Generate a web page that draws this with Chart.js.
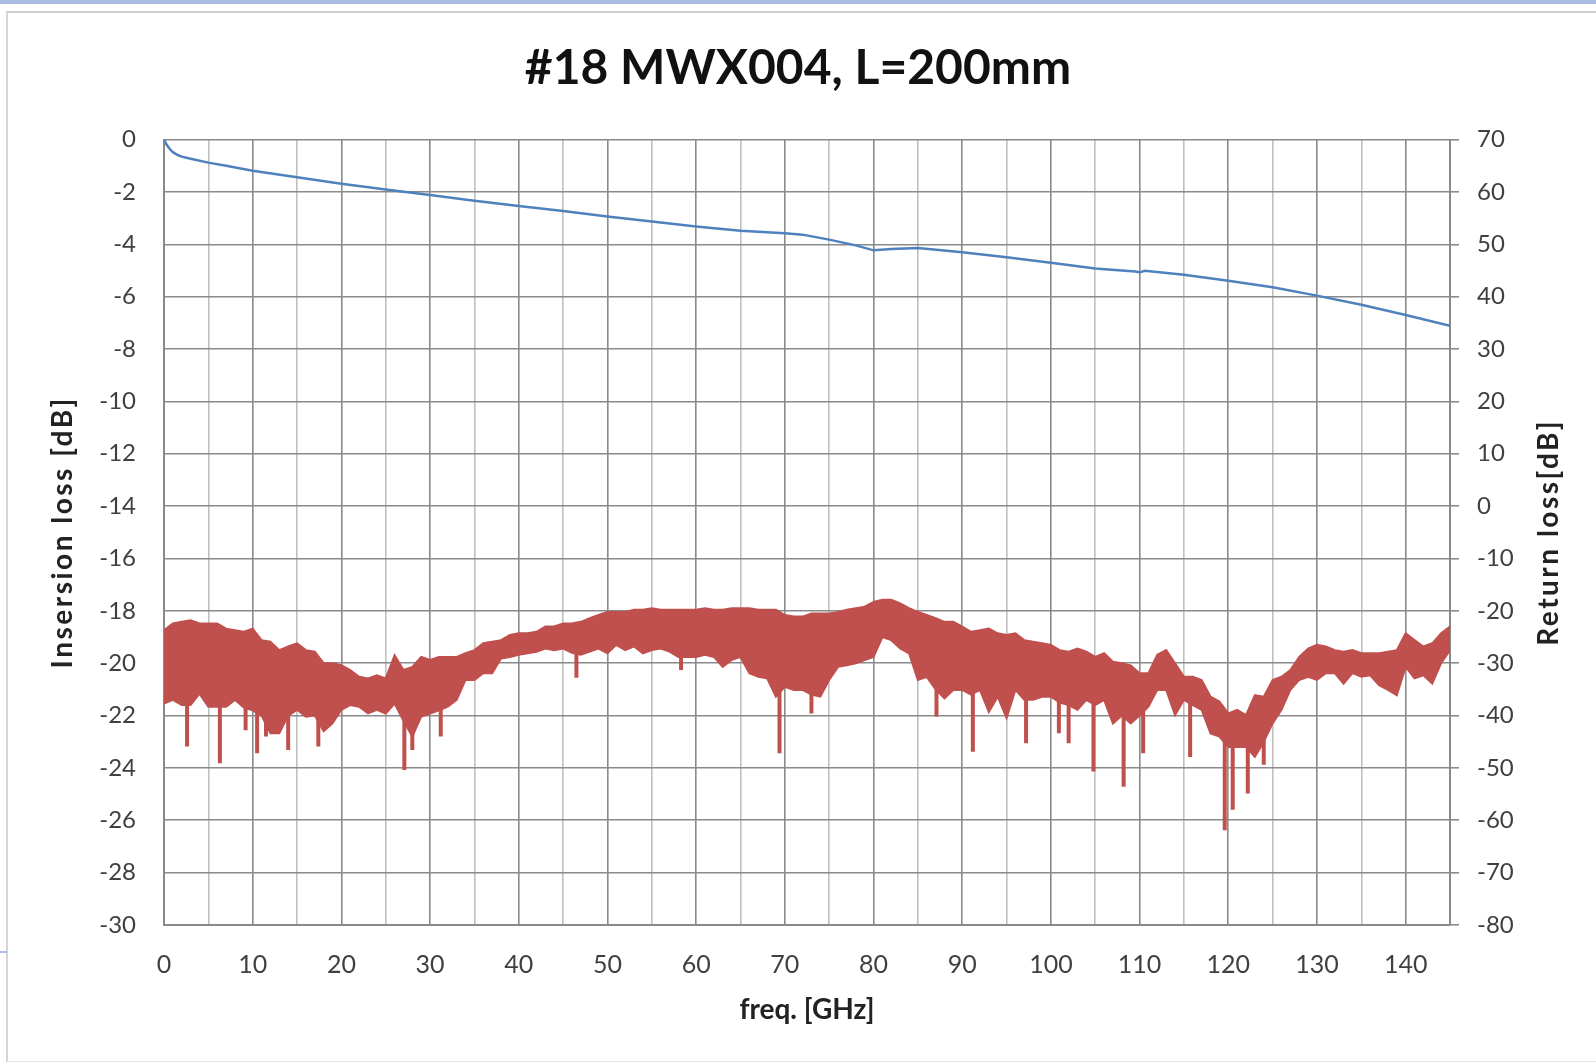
<!DOCTYPE html>
<html>
<head>
<meta charset="utf-8">
<title>#18 MWX004, L=200mm</title>
<script src="https://cdn.jsdelivr.net/npm/chart.js@4.4.1/dist/chart.umd.min.js"></script>
<style>
  html, body { margin: 0; padding: 0; background: #fff; }
  #wrap { position: relative; width: 1596px; height: 1063px; overflow: hidden; }
  .topbar { position: absolute; left: 0; top: 0; width: 1596px; height: 4px; background: #a8bde0; }
  .frame { position: absolute; left: 6px; top: 11px; right: 0; bottom: 1px;
           border-left: 2px solid #d6d6d6; border-top: 2px solid #cfcfcf; border-bottom: 1px solid #e6e6e6; }
  .mark { position: absolute; left: 0; top: 951px; width: 7px; height: 2px; background: #a8bde0; }
  canvas { position: absolute; left: 0; top: 0; }
</style>
</head>
<body>
<div id="wrap">
  <div class="topbar"></div>
  <div class="frame"></div>
  <div class="mark"></div>
  <canvas id="chart" width="1596" height="1063"></canvas>
</div>
<script>
// texts
const chartTitle = '#18 MWX004, L=200mm';
const xTitle = 'freq. [GHz]';
const yLeftTitle = 'Insersion loss [dB]';
const yRightTitle = 'Return loss[dB]';

// insertion loss (left axis)
const ilFreq = [0, 0.3, 0.7, 1, 1.5, 2, 3, 5, 7, 10, 15, 20, 25, 30, 35, 40, 45, 50, 55, 60, 65, 70, 72, 75, 78, 80, 82, 85,
  90, 95, 100, 105, 109.5, 110, 110.6, 115, 120, 125, 130, 135, 140, 145];
const ilLoss = [0, -0.2, -0.38, -0.48, -0.58, -0.65, -0.73, -0.88, -1.0, -1.19, -1.44, -1.69, -1.91, -2.12, -2.34, -2.54,
  -2.73, -2.94, -3.13, -3.32, -3.48, -3.58, -3.63, -3.82, -4.04, -4.23, -4.18, -4.14, -4.30, -4.49, -4.70, -4.92, -5.04,
  -5.07, -5.01, -5.16, -5.39, -5.64, -5.96, -6.31, -6.70, -7.11];

// return loss (right axis): upper and lower edge of the noisy band, one value per GHz from 0 to 145
const rlTop = [
  -23.7, -22.4, -22.1, -21.8, -22.4, -22.4, -22.4, -23.4, -23.7, -24.0,
  -23.4, -25.6, -25.9, -27.5, -26.8, -26.2, -27.5, -27.8, -30.0, -30.0,
  -30.4, -31.3, -32.6, -32.9, -32.3, -32.9, -28.5, -31.3, -30.7, -28.8,
  -29.4, -28.8, -28.8, -28.8, -28.1, -27.5, -26.2, -25.9, -25.6, -24.6,
  -24.3, -24.3, -24.0, -23.0, -23.0, -22.4, -22.4, -22.1, -21.4, -20.8,
  -20.2, -20.2, -20.2, -19.8, -19.8, -19.5, -19.8, -19.8, -19.8, -19.8,
  -19.8, -19.5, -19.8, -19.8, -19.5, -19.5, -19.5, -19.8, -19.8, -19.8,
  -20.8, -21.1, -21.1, -20.5, -20.5, -20.5, -20.2, -19.8, -19.5, -19.2,
  -18.3, -17.9, -17.9, -18.6, -19.5, -20.2, -20.8, -21.4, -22.1, -22.1,
  -23.0, -24.0, -23.7, -23.4, -24.3, -24.6, -24.3, -25.6, -25.9, -26.2,
  -26.5, -27.5, -27.8, -27.2, -27.8, -28.8, -28.1, -29.7, -30.0, -30.4,
  -31.9, -31.9, -28.4, -27.5, -30.0, -32.6, -32.6, -33.2, -36.4, -37.3,
  -39.6, -38.9, -39.9, -36.1, -36.4, -33.2, -32.6, -31.3, -28.8, -27.2,
  -26.5, -26.8, -27.5, -27.8, -27.5, -28.1, -28.1, -28.1, -27.8, -27.5,
  -24.3, -25.6, -26.8, -26.2, -24.3, -23.0];
const rlBottom = [
  -37.7, -37.0, -38.0, -38.0, -35.8, -38.3, -38.3, -38.3, -37.0, -38.5,
  -39.0, -40.0, -43.4, -43.4, -40.0, -38.9, -40.2, -40.0, -43.0, -41.5,
  -38.9, -38.0, -38.3, -39.6, -38.9, -39.6, -37.7, -41.0, -44.0, -40.2,
  -39.6, -39.0, -38.3, -37.0, -33.2, -33.2, -31.9, -31.9, -29.1, -28.8,
  -28.4, -28.1, -27.8, -27.2, -27.5, -27.2, -28.0, -28.4, -27.8, -27.2,
  -28.1, -26.5, -27.5, -26.8, -28.1, -27.5, -27.2, -27.8, -28.8, -28.8,
  -28.8, -28.4, -28.8, -30.7, -29.4, -28.8, -31.9, -32.6, -32.9, -36.4,
  -34.5, -35.1, -35.1, -36.0, -36.4, -33.2, -30.7, -30.4, -30.0, -29.4,
  -28.8, -25.0, -25.6, -27.2, -28.1, -33.2, -32.6, -35.0, -36.7, -35.1,
  -35.1, -36.0, -35.1, -39.3, -36.4, -40.5, -35.1, -37.0, -37.0, -36.4,
  -36.4, -37.5, -38.0, -38.9, -37.0, -38.0, -37.0, -41.5, -40.0, -41.5,
  -40.0, -38.3, -35.1, -35.1, -39.9, -37.0, -38.0, -38.9, -43.4, -44.0,
  -46.0, -46.0, -46.0, -47.9, -45.0, -41.5, -38.9, -35.1, -33.2, -32.6,
  -33.2, -31.9, -31.9, -33.9, -31.9, -32.6, -32.3, -34.2, -35.1, -36.1,
  -30.7, -32.9, -32.3, -33.9, -30.0, -27.5];
// deep narrow dips below the band
const rlDipFreq = [2.6, 6.3, 9.2, 10.5, 11.5, 14.0, 17.4, 27.1, 28.0, 31.2, 46.5, 58.3, 69.4, 73.0, 87.1, 91.2,
  97.2, 100.9, 102.0, 104.8, 108.2, 110.4, 115.7, 119.6, 120.5, 122.2, 124.0];
const rlDipLoss = [-45.9, -49.1, -42.8, -47.2, -44.0, -46.6, -45.9, -50.4, -46.6, -44.0, -32.8, -31.3, -47.2, -39.6,
  -40.2, -46.9, -45.3, -43.4, -45.3, -50.7, -53.6, -47.2, -47.9, -61.9, -58.0, -54.9, -49.4];

const blue = '#4f81bd';
const red = '#c0504d';
const gridMajor = '#8a8a8a';
const gridMinor = '#c0c0c0';
const tickColor = '#404040';
const titleColor = '#222';

Chart.defaults.font.family = 'Lato, "Open Sans", sans-serif';

const ilPoints = ilFreq.map((f, i) => ({ x: f, y: ilLoss[i] }));
const topPoints = rlTop.map((v, i) => ({ x: i, y: v }));
const bottomPoints = rlBottom.map((v, i) => ({ x: i, y: v }));
const dipPoints = [];
rlDipFreq.forEach((f, i) => {
  const k = Math.round(f);
  dipPoints.push({ x: f, y: (rlTop[k] + rlBottom[k]) / 2 });
  dipPoints.push({ x: f, y: rlDipLoss[i] });
  dipPoints.push({ x: f, y: null });
});

// both vertical axis titles read bottom to top, drawn wide like the original
function drawVertical(ctx, text, x, y) {
  ctx.save();
  ctx.translate(x, y);
  ctx.rotate(-Math.PI / 2);
  ctx.font = 'bold 28px Lato';
  ctx.letterSpacing = '2.5px';
  ctx.fillStyle = titleColor;
  ctx.textAlign = 'center';
  ctx.textBaseline = 'middle';
  ctx.fillText(text, 0, 0);
  ctx.restore();
}
const axisTitles = {
  id: 'axisTitles',
  afterDraw(chart) {
    const { ctx, chartArea } = chart;
    const midY = (chartArea.top + chartArea.bottom) / 2;
    drawVertical(ctx, yLeftTitle, 63, midY);
    drawVertical(ctx, yRightTitle, chart.width - 47, midY);
  }
};

new Chart(document.getElementById('chart'), {
  type: 'line',
  data: {
    datasets: [
      {
        label: 'IL', data: ilPoints, yAxisID: 'y',
        borderColor: blue, borderWidth: 2.5, pointRadius: 0, tension: 0
      },
      {
        label: 'RL top', data: topPoints, yAxisID: 'y1',
        borderColor: red, backgroundColor: red, borderWidth: 2, pointRadius: 0, tension: 0, fill: '+1'
      },
      {
        label: 'RL bottom', data: bottomPoints, yAxisID: 'y1',
        borderColor: red, borderWidth: 2, pointRadius: 0, tension: 0, fill: false
      },
      {
        label: 'RL dips', data: dipPoints, yAxisID: 'y1', spanGaps: false,
        borderColor: red, borderWidth: 4, pointRadius: 0, tension: 0, fill: false
      }
    ]
  },
  options: {
    responsive: false,
    animation: false,
    devicePixelRatio: 1,
    layout: { padding: 0 },
    plugins: {
      legend: { display: false },
      tooltip: { enabled: false },
      title: {
        display: true, text: chartTitle, color: '#111',
        font: { size: 48, weight: 'bold' },
        padding: { top: 40, bottom: 42 }
      }
    },
    scales: {
      x: {
        type: 'linear', min: 0, max: 145,
        afterFit: s => { s.height = 138; },
        ticks: {
          stepSize: 5, autoSkip: false, maxRotation: 0, padding: 25,
          color: tickColor, font: { size: 25 },
          callback: v => (v % 10 === 0 ? v : '')
        },
        grid: {
          drawTicks: false, lineWidth: 1.6,
          color: c => (c.tick && c.tick.value % 10 === 0 ? gridMajor : gridMinor)
        },
        border: { display: true, color: gridMajor, width: 2 },
        title: {
          display: true, text: xTitle, color: titleColor,
          font: { size: 28, weight: 'bold' }, padding: { top: 0, bottom: 36 }
        }
      },
      y: {
        position: 'left', min: -30, max: 0,
        afterFit: s => { s.width = 164; },
        ticks: { stepSize: 2, padding: 28, color: tickColor, font: { size: 24 } },
        grid: { drawTicks: false, color: gridMajor, lineWidth: 1.6 },
        border: { display: true, color: gridMajor, width: 2 }
      },
      y1: {
        position: 'right', min: -80, max: 70,
        afterFit: s => { s.width = 146; },
        ticks: { stepSize: 10, padding: 18, color: tickColor, font: { size: 24 } },
        grid: { drawOnChartArea: false, drawTicks: true, tickLength: 9, color: gridMajor, lineWidth: 1.6 },
        border: { display: true, color: gridMajor, width: 2 }
      }
    }
  },
  plugins: [axisTitles]
});
</script>
</body>
</html>
